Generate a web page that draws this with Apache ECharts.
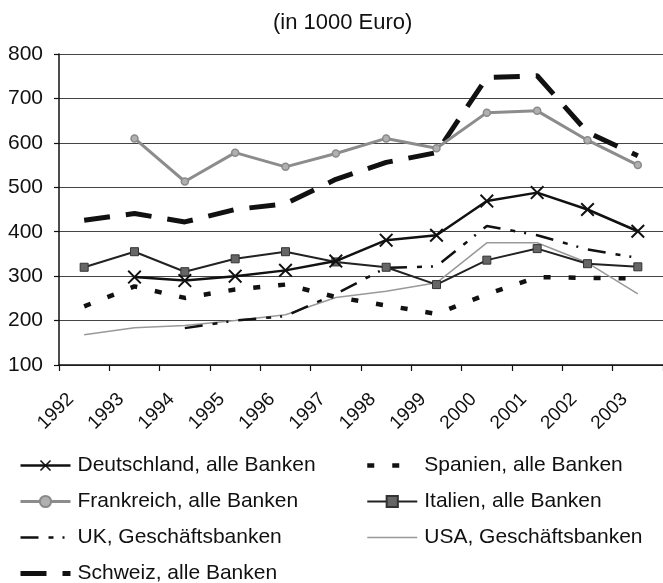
<!DOCTYPE html>
<html>
<head>
<meta charset="utf-8">
<script src="https://cdn.jsdelivr.net/npm/echarts@6/dist/echarts.min.js"></script>
<style>
  html, body { margin: 0; padding: 0; background: #fff; }
  #chart { width: 663px; height: 583px; }
</style>
</head>
<body>
<div id="chart"></div>
<script>
// Werte (in 1000 Euro)
var years = ['1992', '1993', '1994', '1995', '1996', '1997', '1998', '1999', '2000', '2001', '2002', '2003'];
var deutschland = ['-', 298, 290, 300, 313, 334, 381, 392, 469, 488, 450, 401];
var spanien = [232, 277, 251, 270, 281, 253, 234, 215, 259, 298, 296, 295];
var frankreich = ['-', 610, 513, 578, 546, 576, 610, 588, 668, 672, 606, 550];
var italien = [320, 355, 310, 339, 355, 332, 320, 281, 336, 362, 328, 321];
var uk = ['-', '-', 183, 200, 210, 260, 319, 322, 413, 392, 360, 341];
var usa = [168, 184, 189, 200, 213, 252, 266, 285, 375, 375, 330, 260];
var schweiz = [426, 441, 422, 450, 463, 518, 556, 578, 747, 751, 624, 571];
var yTicks = { min: 100, max: 800, step: 100 };

var font = '"Liberation Sans", Arial, Helvetica, sans-serif';
var xMark = 'path://M0,1 L1,0 L5,4 L9,0 L10,1 L6,5 L10,9 L9,10 L5,6 L1,10 L0,9 L4,5 Z';

// gemeinsame Legendeneinstellungen (zwei Spalten)
function legendCol(left, items) {
  return {
    orient: 'vertical',
    left: left,
    top: 455,
    padding: 0,
    height: 140,
    itemWidth: 50,
    itemHeight: 14,
    itemGap: 15,
    lineStyle: { width: 'inherit' },
    textStyle: { fontSize: 21, color: '#111', fontFamily: font, padding: [0, 0, 0, 2] },
    data: items
  };
}

var chart = echarts.init(document.getElementById('chart'));
var option = {
  animation: false,
  backgroundColor: '#fff',
  textStyle: { fontFamily: font },
  title: {
    text: '(in 1000 Euro)',
    left: 268,
    top: 7,
    textStyle: { fontSize: 22, fontWeight: 'normal', color: '#111', fontFamily: font }
  },
  grid: { left: 59, right: -8, top: 54, bottom: 218 },
  legend: [
    legendCol(18, [
      { name: 'Deutschland, alle Banken' },
      { name: 'Frankreich, alle Banken' },
      { name: 'UK, Geschäftsbanken', itemStyle: { opacity: 0 } },
      { name: 'Schweiz, alle Banken', itemStyle: { opacity: 0 } }
    ]),
    legendCol(365, [
      { name: 'Spanien, alle Banken', itemStyle: { opacity: 0 } },
      { name: 'Italien, alle Banken' },
      { name: 'USA, Geschäftsbanken', itemStyle: { opacity: 0 } }
    ])
  ],
  xAxis: {
    type: 'category',
    data: years,
    boundaryGap: true,
    axisLine: { lineStyle: { color: '#111', width: 1.5 } },
    axisTick: { show: true, length: 6, lineStyle: { color: '#111', width: 1.2 } },
    axisLabel: {
      rotate: 45,
      interval: 0,
      margin: 18,
      fontSize: 19,
      color: '#111',
      fontFamily: font,
      padding: [0, 19, 0, 0]
    }
  },
  yAxis: {
    type: 'value',
    min: yTicks.min,
    max: yTicks.max,
    interval: yTicks.step,
    axisLine: { show: true, lineStyle: { color: '#111', width: 1.5 } },
    axisTick: { show: true, length: 5, lineStyle: { color: '#111', width: 1.2 } },
    axisLabel: { fontSize: 21, color: '#111', margin: 16, fontFamily: font },
    splitLine: { show: true, lineStyle: { color: '#444', width: 1.2 } }
  },
  series: [
    {
      name: 'Deutschland, alle Banken',
      type: 'line',
      data: deutschland,
      symbol: xMark,
      symbolSize: 14,
      itemStyle: { color: '#111' },
      lineStyle: { color: '#111', width: 2.5 },
      z: 6
    },
    {
      name: 'Spanien, alle Banken',
      type: 'line',
      data: spanien,
      symbol: 'none',
      itemStyle: { color: '#111' },
      lineStyle: { color: '#111', width: 4.5, type: [7, 18] },
      z: 3
    },
    {
      name: 'Frankreich, alle Banken',
      type: 'line',
      data: frankreich,
      symbol: 'circle',
      symbolSize: 7,
      itemStyle: { color: '#b0b0b0', borderColor: '#8a8a8a', borderWidth: 1.5 },
      lineStyle: { color: '#8c8c8c', width: 3 },
      z: 4
    },
    {
      name: 'Italien, alle Banken',
      type: 'line',
      data: italien,
      symbol: 'rect',
      symbolSize: 8,
      itemStyle: { color: '#666', borderColor: '#333', borderWidth: 1 },
      lineStyle: { color: '#222', width: 2 },
      z: 5
    },
    {
      name: 'UK, Geschäftsbanken',
      type: 'line',
      data: uk,
      symbol: 'none',
      itemStyle: { color: '#111' },
      lineStyle: { color: '#111', width: 2.5, type: [18, 10, 5, 9, 2, 10] },
      z: 3
    },
    {
      name: 'USA, Geschäftsbanken',
      type: 'line',
      data: usa,
      symbol: 'none',
      itemStyle: { color: '#999' },
      lineStyle: { color: '#999', width: 1.5 },
      z: 2
    },
    {
      name: 'Schweiz, alle Banken',
      type: 'line',
      data: schweiz,
      symbol: 'none',
      itemStyle: { color: '#111' },
      lineStyle: { color: '#111', width: 5, type: [26, 16] },
      z: 3
    }
  ]
};
chart.setOption(option);
</script>
</body>
</html>
